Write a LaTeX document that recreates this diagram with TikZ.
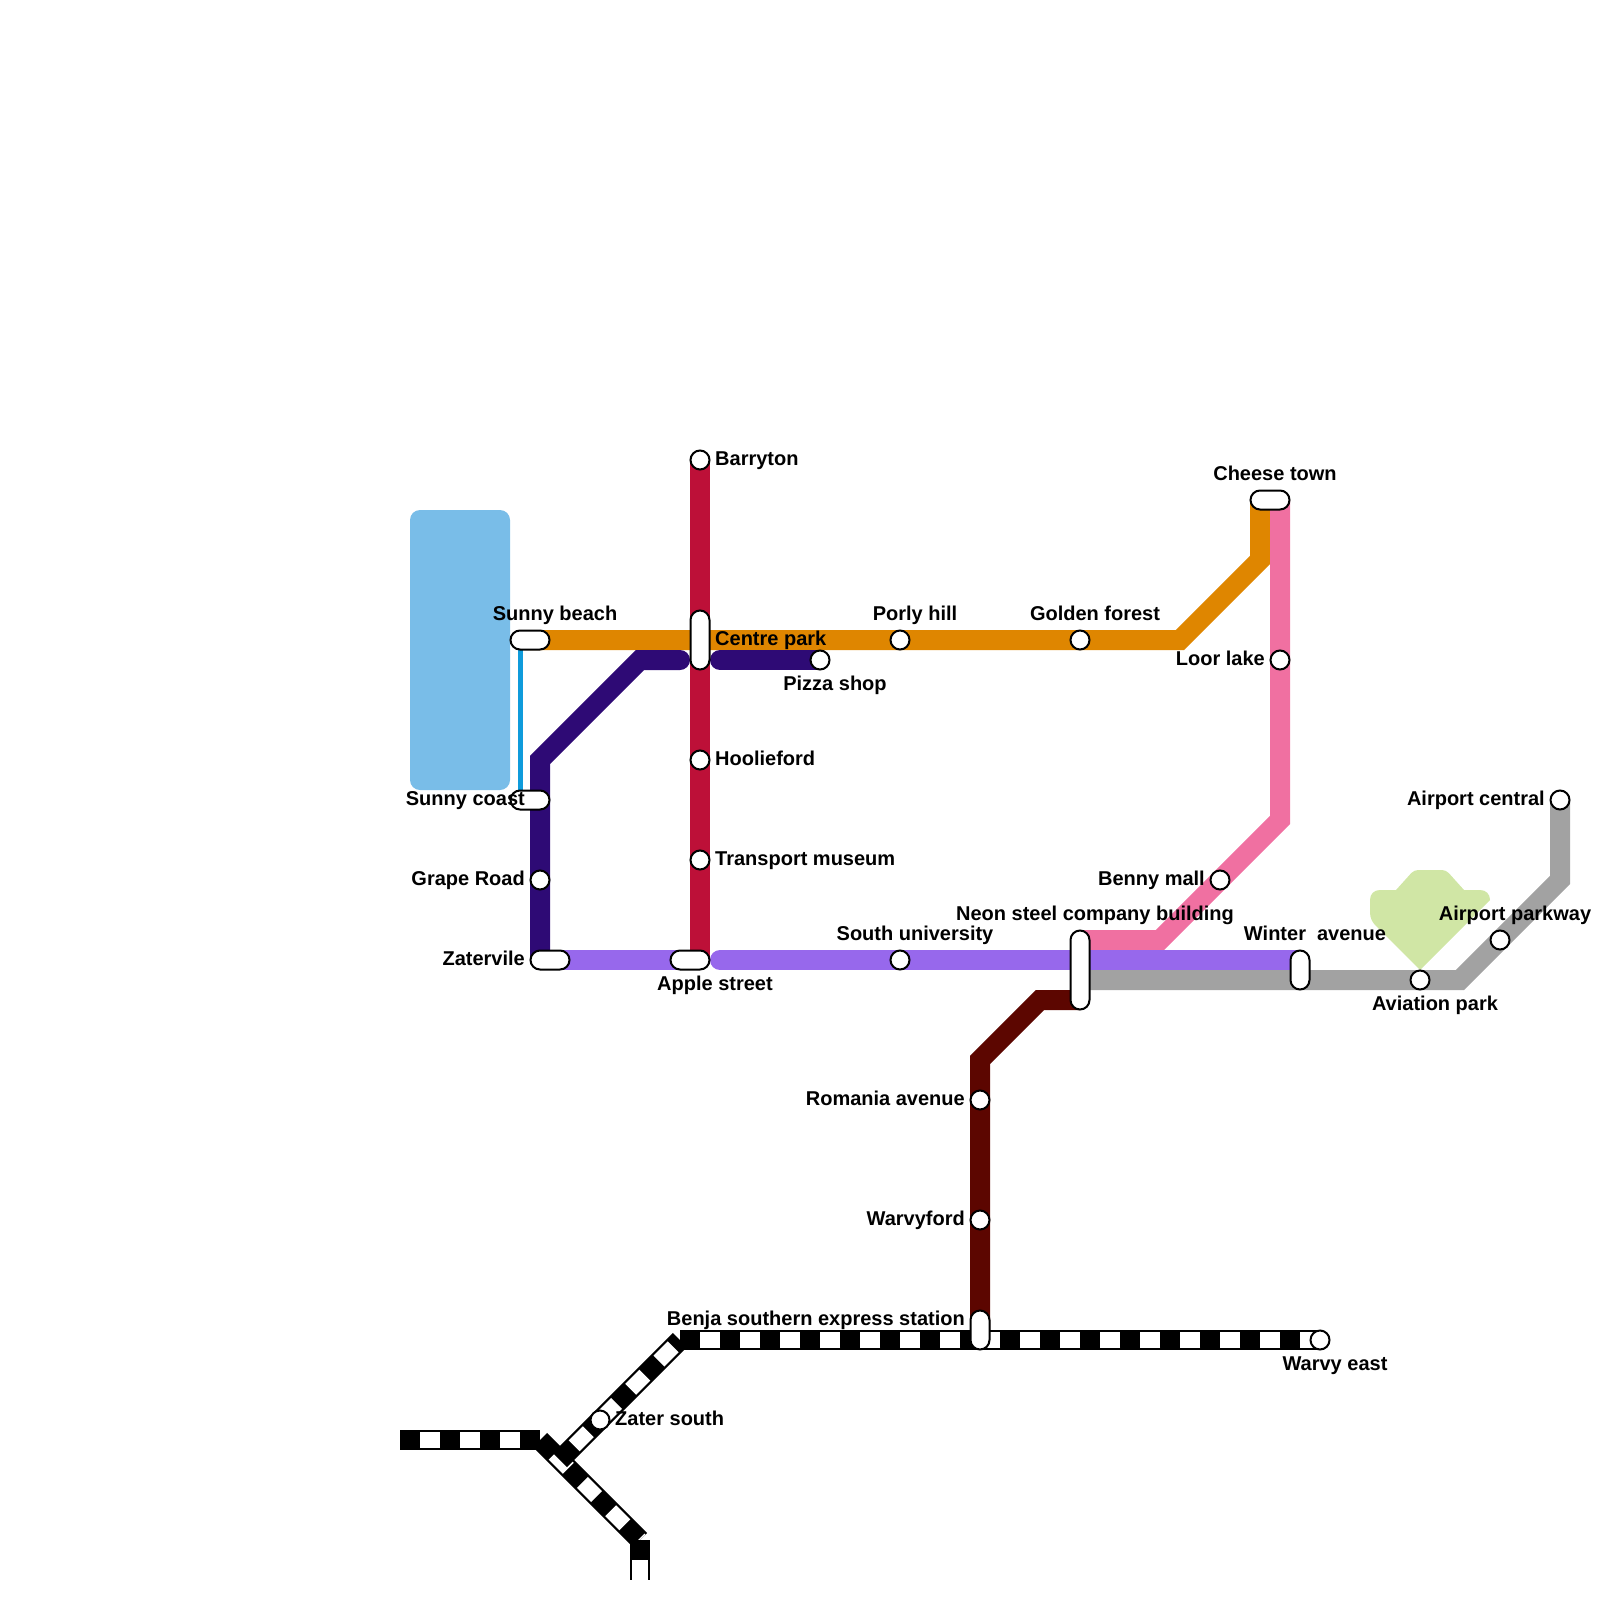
\documentclass[tikz,border=0pt]{standalone}
\usepackage{fontspec}
\setmainfont{Liberation Sans}
\usetikzlibrary{backgrounds}
\definecolor{lakeC}{HTML}{79BDE8}
\definecolor{parkC}{HTML}{D0E6A5}
\definecolor{blueL}{HTML}{0F9BDB}
\definecolor{redL}{HTML}{BD1038}
\definecolor{orangeL}{HTML}{DF8600}
\definecolor{indigoL}{HTML}{2E0A75}
\definecolor{violetL}{HTML}{9768EC}
\definecolor{pinkL}{HTML}{F070A1}
\definecolor{greyL}{HTML}{A2A2A2}
\definecolor{maroonL}{HTML}{5C0600}
\tikzset{
  x=1pt,y=-1pt,
  stop/.style={circle,draw=black,fill=white,line width=2pt,inner sep=0pt,minimum size=19pt,outer sep=0pt},
  capsule/.style={rectangle,draw=black,fill=white,line width=2pt,inner sep=0pt,outer sep=0pt,rounded corners=9.5pt},
  capH/.style={capsule,minimum width=39pt,minimum height=19pt},
  capV/.style={capsule,minimum width=19pt,minimum height=#1},
  metro/.style={line width=20pt,line cap=butt,line join=miter,miter limit=10},
  railbase/.style={line width=20pt,draw=black,line cap=butt,line join=miter},
  railtop/.style={line width=15.5pt,draw=white,line cap=butt,dash pattern=on 20pt off 20pt},
  railtopoff/.style={railtop,dash phase=20pt},
  lbl/.style={font=\fontsize{20}{24}\selectfont\bfseries,inner sep=0pt,text=black},
  lblR/.style={lbl,anchor=base west},
  lblL/.style={lbl,anchor=base east},
  lblC/.style={lbl,anchor=base},
}
\begin{document}
\begin{tikzpicture}
\useasboundingbox (0,0) rectangle (1600,1600);
% stations
\node[stop] (barryton) at (700,460) {};
\node[capV=59pt] (centre) at (700,640) {};
\node[stop] (hoolie) at (700,760) {};
\node[stop] (transport) at (700,860) {};
\node[capH] (apple) at (690,960) {};
\node[capH] (sunnyb) at (530,640) {};
\node[capH] (sunnyc) at (530,800) {};
\node[stop] (grape) at (540,880) {};
\node[capH] (zater) at (550,960) {};
\node[stop] (pizza) at (820,660) {};
\node[stop] (porly) at (900,640) {};
\node[stop] (golden) at (1080,640) {};
\node[capH] (cheese) at (1270,500) {};
\node[stop] (loor) at (1280,660) {};
\node[stop] (benny) at (1220,880) {};
\node[capV=79pt] (neon) at (1080,970) {};
\node[stop] (southu) at (900,960) {};
\node[capV=39pt] (winter) at (1300,970) {};
\node[stop] (aviation) at (1420,980) {};
\node[stop] (parkway) at (1500,940) {};
\node[stop] (central) at (1560,800) {};
\node[stop] (romania) at (980,1100) {};
\node[stop] (warvyford) at (980,1220) {};
\node[capV=39pt] (benja) at (980,1330) {};
\node[stop] (warvy) at (1320,1340) {};
\node[stop] (zsouth) at (600,1420) {};
% free ends
\coordinate (blueA) at (520,640);
\coordinate (blueB) at (520,800);
\coordinate (indigoA) at (540,960);
\coordinate (indigoB) at (680,660);
\coordinate (indigoC) at (720,660);
\coordinate (orangeA) at (530,640);
\coordinate (orangeB) at (1260,500);
\coordinate (pinkA) at (1280,500);
\coordinate (pinkB) at (1080,940);
\coordinate (violetA) at (540,960);
\coordinate (violetB) at (700,960);
\coordinate (violetC) at (720,960);
\coordinate (violetD) at (1300,960);
\coordinate (greyA) at (1080,980);
\coordinate (maroonA) at (1080,1000);
\coordinate (maroonB) at (980,1330);
\coordinate (railE) at (680,1340);
\coordinate (railJ) at (560,1460);
\coordinate (railW) at (400,1440);
\coordinate (railC) at (540,1440);
\coordinate (railS) at (640,1540);
\coordinate (railEnd) at (640,1580);
\begin{pgfonlayer}{background}
  \fill[lakeC,rounded corners=10pt] (410,510) rectangle (510,790);
  \fill[parkC] (1396,890) [rounded corners=4pt] -- (1414,870) -- (1446,870) [sharp corners] -- (1464,890) -- (1480,890) .. controls (1486,890) and (1490,894) .. (1490,900) -- (1420,970) -- (1376,926) .. controls (1372,922) and (1370,918) .. (1370,912) -- (1370,900) .. controls (1370,894) and (1374,890) .. (1380,890) -- cycle;
  \draw[blueL,line width=5pt] (blueA) -- (blueB);
  \draw[metro,orangeL] (orangeA) -- (1180,640) -- (1260,560) -- (orangeB);
  \draw[metro,pinkL] (pinkA) -- (1280,820) -- (1160,940) -- (pinkB);
  \draw[metro,greyL] (central.center) -- (1560,880) -- (1460,980) -- (greyA);
  \draw[metro,violetL] (violetA) -- (violetB);
  \draw[metro,violetL,line cap=round] (violetC) -- (violetD);
  \draw[metro,maroonL] (maroonA) -- (1040,1000) -- (980,1060) -- (maroonB);
  \draw[metro,indigoL,line cap=round] (indigoB) -- (640,660) -- (540,760) -- (indigoA);
  \draw[metro,indigoL,line cap=round] (indigoC) -- (pizza.center);
  \draw[metro,redL] (barryton.center) -- (700,960);
  % rail
  \draw[railbase] (railW) -- (railC);
  \draw[railtopoff] (railW) -- (railC);
  \draw[railbase] (railC) -- (railS);
  \draw[railtopoff] (railC) -- (railS);
  \draw[railbase] (railS) -- (railEnd);
  \draw[railtopoff] (railS) -- (railEnd);
  \draw[railbase] (railJ) -- (railE);
  \draw[railtopoff] (railJ) -- (railE);
  \draw[railbase] (warvy.center) -- (railE);
  \draw[railtop] (warvy.center) -- (railE);
\end{pgfonlayer}
% labels
\node[lblR] (t1) at (715,465) {Barryton};
\node[lblR] (t2) at (715,645) {Centre park};
\node[lblR] (t3) at (715,765) {Hoolieford};
\node[lblR] (t4) at (715,865) {Transport museum};
\node[lblR] (t5) at (615,1425) {Zater south};
\node[lblL] (t6) at (525,805) {Sunny coast};
\node[lblL] (t7) at (525,885) {Grape Road};
\node[lblL] (t8) at (525,965) {Zatervile};
\node[lblL] (t9) at (965,1105) {Romania avenue};
\node[lblL] (t10) at (965,1225) {Warvyford};
\node[lblL] (t11) at (965,1325) {Benja southern express station};
\node[lblL] (t12) at (1205,885) {Benny mall};
\node[lblL] (t13) at (1265,665) {Loor lake};
\node[lblL] (t14) at (1545,805) {Airport central};
\node[lblC] (t15) at (555,620) {Sunny beach};
\node[lblC] (t16) at (915,620) {Porly hill};
\node[lblC] (t17) at (1095,620) {Golden forest};
\node[lblC] (t18) at (1275,480) {Cheese town};
\node[lblC] (t19) at (915,940) {South university};
\node[lblC] (t20) at (1095,920) {Neon steel company building};
\node[lblC] (t21) at (1315,940) {Winter\ \ avenue};
\node[lblC] (t22) at (1515,920) {Airport parkway};
\node[lblC] (t23) at (835,690) {Pizza shop};
\node[lblC] (t24) at (715,990) {Apple street};
\node[lblC] (t25) at (1435,1010) {Aviation park};
\node[lblC] (t26) at (1335,1370) {Warvy east};
\end{tikzpicture}
\end{document}
